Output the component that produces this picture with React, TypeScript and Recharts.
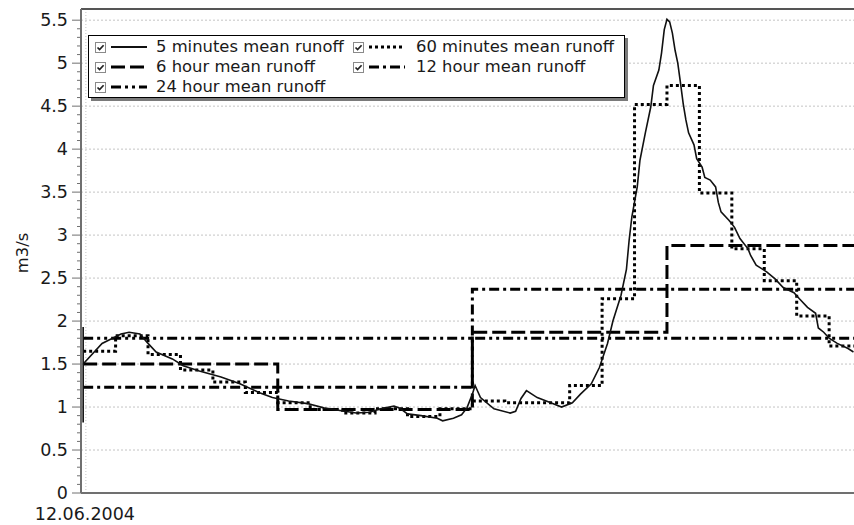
import React from 'react';
import { LineChart, Line, XAxis, YAxis, ReferenceLine, Legend } from 'recharts';

// ---- data (time in minutes from start of record) ----
const MIN5_T = [0, 0, 0, 35, 70, 85, 105, 120, 135, 165, 185, 215, 255, 290, 325, 350, 380, 415, 445, 475, 505, 530, 550, 575, 585, 600, 625, 655, 665, 685, 700, 710, 720, 725, 735, 760, 790, 800, 810, 820, 840, 865, 885, 905, 920, 940, 955, 970, 980, 995, 1005, 1010, 1015, 1025, 1030, 1040, 1050, 1055, 1065, 1070, 1075, 1080, 1085, 1090, 1095, 1100, 1105, 1110, 1115, 1120, 1130, 1135, 1145, 1150, 1160, 1170, 1175, 1180, 1195, 1205, 1215, 1230, 1235, 1245, 1250, 1265, 1280, 1295, 1315, 1325, 1340, 1355, 1360, 1370, 1380, 1395, 1415, 1425];
const MIN5_V = [0.82, 1.93, 1.5, 1.74, 1.85, 1.87, 1.85, 1.74, 1.64, 1.56, 1.48, 1.42, 1.35, 1.27, 1.17, 1.11, 1.07, 1.04, 0.99, 0.96, 0.93, 0.94, 0.98, 1.01, 0.99, 0.92, 0.9, 0.87, 0.84, 0.87, 0.91, 0.99, 1.15, 1.25, 1.11, 0.98, 0.93, 0.95, 1.1, 1.19, 1.11, 1.05, 1.0, 1.05, 1.15, 1.27, 1.46, 1.74, 2.0, 2.3, 2.6, 2.94, 3.21, 3.56, 3.87, 4.19, 4.49, 4.74, 4.92, 5.12, 5.39, 5.51, 5.48, 5.35, 5.15, 5.0, 4.77, 4.53, 4.34, 4.19, 4.05, 3.89, 3.79, 3.67, 3.64, 3.56, 3.38, 3.27, 3.17, 3.09, 2.96, 2.84, 2.76, 2.65, 2.63, 2.57, 2.49, 2.39, 2.33, 2.26, 2.16, 2.09, 1.92, 1.87, 1.8, 1.74, 1.68, 1.64];
const H1_VALUES = [1.65, 1.83, 1.61, 1.43, 1.29, 1.17, 1.05, 0.97, 0.93, 0.98, 0.89, 0.98, 1.07, 1.05, 1.05, 1.25, 2.26, 4.52, 4.74, 3.49, 2.84, 2.47, 2.06, 1.71];
const H6_VALUES = [1.5, 0.97, 1.87, 2.88];
const H12_VALUES = [1.23, 2.37];
const H24_VALUES = [1.8];

const Y_MAJOR_TICKS = [0, 0.5, 1, 1.5, 2, 2.5, 3, 3.5, 4, 4.5, 5, 5.5];
const X_TICKS = [5];
const X_TICK_LABELS = ['12.06.2004'];
const SERIES_NAMES = ['5 minutes mean runoff', '60 minutes mean runoff', '6 hour mean runoff', '12 hour mean runoff', '24 hour mean runoff'];
const Y_LABEL = 'm3/s';

// ---- derived tables ----
const min5Data = MIN5_T.map((t, i) => ({ t, v: MIN5_V[i] }));
const stepData = (values: number[], period: number) => {
  const pts = values.map((v, i) => ({ t: i * period, v }));
  pts.push({ t: values.length * period, v: values[values.length - 1] });
  return pts;
};
const h1Data = stepData(H1_VALUES, 60);
const h6Data = stepData(H6_VALUES, 360);
const h12Data = stepData(H12_VALUES, 720);
const h24Data = stepData(H24_VALUES, 1440);
const yAllTicks = Array.from({ length: 56 }, (_, i) => i / 10);

const X_DOMAIN: [number, number] = [-4, 1426];
const Y_MAX = 5.63;
const FONT = '"DejaVu Sans", Verdana, sans-serif';
const TXT = '#1a1a1a';
const AXIS = '#707070';

const STYLES = {
  m5: { stroke: '#111', width: 1.6, dash: undefined as string | undefined },
  h1: { stroke: '#000', width: 3, dash: '3 3' },
  h6: { stroke: '#000', width: 3, dash: '14 5' },
  h12: { stroke: '#000', width: 3, dash: '10 4 3 4' },
  h24: { stroke: '#000', width: 3, dash: '10 4 3 4 3 4' },
};

const YTick = (props: any) => {
  const { x, y, payload } = props;
  const v = payload.value as number;
  const major = Y_MAJOR_TICKS.some((m) => Math.abs(m - v) < 1e-6);
  return (
    <g>
      <line x1={x - (major ? 9 : 4)} x2={x} y1={y} y2={y} stroke={AXIS} strokeWidth={1} />
      {major && (
        <text x={x - 13} y={y} dy={6.3} textAnchor="end" fontSize={17.5} fill={TXT} fontFamily={FONT}>
          {String(Math.round(v * 10) / 10)}
        </text>
      )}
    </g>
  );
};

const XTick = (props: any) => {
  const { x, y, payload } = props;
  const idx = X_TICKS.indexOf(payload.value);
  return (
    <text x={x - 1} y={y} dy={26.5} textAnchor="middle" fontSize={17.5} fill={TXT} fontFamily={FONT}>
      {X_TICK_LABELS[idx] ?? ''}
    </text>
  );
};

const YLabel = (props: any) => {
  const vb = props.viewBox || { x: 0, y: 9, width: 81, height: 484 };
  const cx = 22;
  const cy = vb.y + vb.height / 2 + 2;
  return (
    <text x={cx} y={cy} transform={`rotate(-90 ${cx} ${cy})`} textAnchor="middle" dy={5.5} fontSize={16.4} fill={TXT} fontFamily={FONT}>
      {Y_LABEL}
    </text>
  );
};

const CheckBox = () => (
  <svg width={11} height={11} style={{ display: 'block' }}>
    <rect x={0.5} y={0.5} width={10} height={10} fill="#fff" stroke="#8a8a8a" />
    <path d="M2.5 5.5 L4.6 7.6 L8.6 3.2" stroke="#222" strokeWidth={1.7} fill="none" />
  </svg>
);

const Sample = ({ s }: { s: { stroke: string; width: number; dash?: string } }) => (
  <svg width={36} height={10} style={{ display: 'block' }}>
    <line x1={0} y1={5} x2={36} y2={5} stroke={s.stroke} strokeWidth={s.width === 1.6 ? 2 : s.width} strokeDasharray={s.dash} />
  </svg>
);

const legendItems = [
  { name: SERIES_NAMES[0], s: STYLES.m5, col: 0, row: 0 },
  { name: SERIES_NAMES[1], s: STYLES.h1, col: 1, row: 0 },
  { name: SERIES_NAMES[2], s: STYLES.h6, col: 0, row: 1 },
  { name: SERIES_NAMES[3], s: STYLES.h12, col: 1, row: 1 },
  { name: SERIES_NAMES[4], s: STYLES.h24, col: 0, row: 2 },
];

const LegendBox = () => (
  <div
    style={{
      position: 'relative',
      width: 537,
      height: 63,
      boxSizing: 'border-box',
      border: '1px solid #000',
      background: '#fff',
      boxShadow: '3px 3px 0 #7a7a7a',
      fontFamily: FONT,
      fontSize: 16.4,
      color: TXT,
    }}
  >
    {legendItems.map((it) => {
      const cy = 11 + it.row * 20;
      const left = it.col === 0 ? 6 : 264;
      return (
        <div key={it.name} style={{ position: 'absolute', left, top: cy - 10, height: 20, display: 'flex', alignItems: 'center', whiteSpace: 'nowrap' }}>
          <CheckBox />
          <div style={{ width: 5 }} />
          <Sample s={it.s} />
          <div style={{ width: it.col === 0 ? 9 : 11 }} />
          <span style={{ lineHeight: '20px' }}>{it.name}</span>
        </div>
      );
    })}
  </div>
);

export default function App() {
  return (
    <div style={{ position: 'absolute', left: 0, top: 0, width: 854, height: 525, background: '#fff' }}>
      <LineChart width={854} height={525} margin={{ top: 9, right: 0, bottom: 0, left: 0 }}>
        <XAxis
          type="number"
          dataKey="t"
          domain={X_DOMAIN}
          allowDataOverflow
          ticks={X_TICKS}
          tick={<XTick />}
          tickLine={false}
          tickSize={0}
          tickMargin={0}
          height={32}
          axisLine={{ stroke: AXIS, strokeWidth: 2 }}
        />
        <YAxis
          type="number"
          domain={[0, Y_MAX]}
          allowDataOverflow
          ticks={yAllTicks}
          interval={0}
          tick={<YTick />}
          tickLine={false}
          tickSize={0}
          tickMargin={0}
          width={81}
          axisLine={{ stroke: AXIS, strokeWidth: 2 }}
          label={<YLabel />}
        />
        {Y_MAJOR_TICKS.filter((v) => v > 0).map((v) => (
          <ReferenceLine key={'g' + v} y={v} stroke="#c4c4c4" strokeDasharray="2 2" />
        ))}
        {X_TICKS.map((v) => (
          <ReferenceLine key={'gx' + v} x={v} stroke="#c4c4c4" strokeDasharray="1 2" />
        ))}
        <ReferenceLine y={Y_MAX} stroke="#555" strokeWidth={2} />
        <Legend
          layout="horizontal"
          verticalAlign="middle"
          align="center"
          content={() => <LegendBox />}
          wrapperStyle={{ left: 88, top: 35, width: 537, height: 63 }}
        />
        <Line data={h24Data} dataKey="v" name={SERIES_NAMES[4]} type="stepAfter" stroke={STYLES.h24.stroke} strokeWidth={STYLES.h24.width} strokeDasharray={STYLES.h24.dash} dot={false} activeDot={false} isAnimationActive={false} />
        <Line data={h12Data} dataKey="v" name={SERIES_NAMES[3]} type="stepAfter" stroke={STYLES.h12.stroke} strokeWidth={STYLES.h12.width} strokeDasharray={STYLES.h12.dash} dot={false} activeDot={false} isAnimationActive={false} />
        <Line data={h6Data} dataKey="v" name={SERIES_NAMES[2]} type="stepAfter" stroke={STYLES.h6.stroke} strokeWidth={STYLES.h6.width} strokeDasharray={STYLES.h6.dash} dot={false} activeDot={false} isAnimationActive={false} />
        <Line data={h1Data} dataKey="v" name={SERIES_NAMES[1]} type="stepAfter" stroke={STYLES.h1.stroke} strokeWidth={STYLES.h1.width} strokeDasharray={STYLES.h1.dash} dot={false} activeDot={false} isAnimationActive={false} />
        <Line data={min5Data} dataKey="v" name={SERIES_NAMES[0]} type="linear" stroke={STYLES.m5.stroke} strokeWidth={STYLES.m5.width} dot={false} activeDot={false} isAnimationActive={false} />
      </LineChart>
    </div>
  );
}
